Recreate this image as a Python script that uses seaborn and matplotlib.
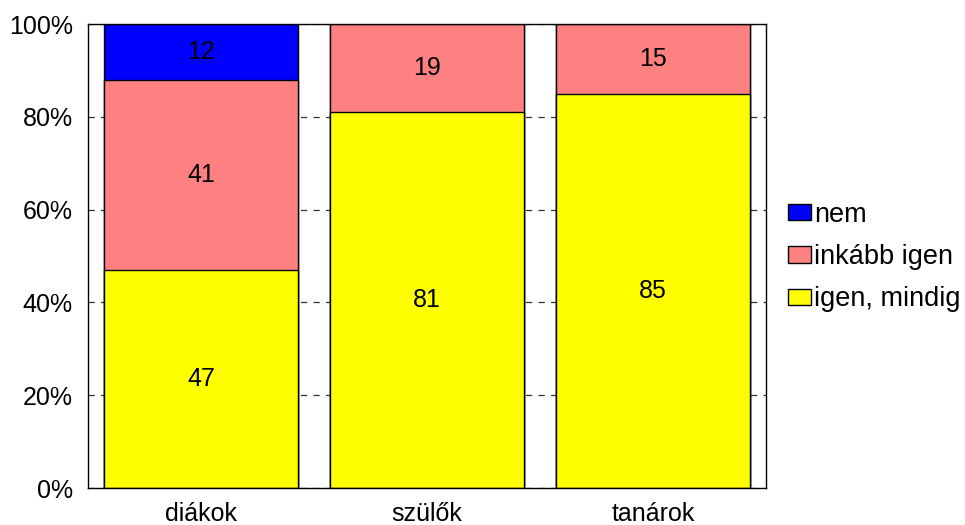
import numpy as np
import pandas as pd
import matplotlib
matplotlib.use('Agg')
import matplotlib.pyplot as plt
import seaborn as sns
from matplotlib.patches import Patch

# Data (percentages)
groups = ['diákok', 'szülők', 'tanárok']
igen_mindig = [47, 81, 85]
inkabb_igen = [41, 19, 15]
nem = [12, 0, 0]
series_names = ['nem', 'inkább igen', 'igen, mindig']
colors = {'nem': '#0000FF', 'inkább igen': '#FF8080', 'igen, mindig': '#FFFF00'}

sns.set_style('white')
plt.rcParams['font.family'] = ['Liberation Sans', 'DejaVu Sans']
plt.rcParams['text.color'] = 'black'
plt.rcParams['xtick.color'] = 'black'
plt.rcParams['ytick.color'] = 'black'

fig = plt.figure(figsize=(9.65, 5.25), dpi=100)
ax = fig.add_axes([88 / 965, 1 - 488 / 525, (766 - 88) / 965, (488 - 24) / 525])

# cumulative tops, drawn from the tallest layer down so each one covers the previous
low = np.array(igen_mindig)
mid = low + np.array(inkabb_igen)
top = mid + np.array(nem)
df = pd.DataFrame({'group': groups, 'top': top, 'mid': mid, 'low': low})

ax.set_axisbelow(True)
ax.yaxis.grid(True, color='#333333', linestyle=(0, (5, 5)), linewidth=0.9)
ax.xaxis.grid(False)

for col, name in zip(['top', 'mid', 'low'], series_names):
    sns.barplot(data=df, x='group', y=col, color=colors[name], saturation=1,
                width=0.854, edgecolor='black', linewidth=1, ax=ax)

# segment labels
fs = 18
for i in range(len(groups)):
    segs = [(0, igen_mindig[i]), (igen_mindig[i], inkabb_igen[i]), (mid[i], nem[i])]
    for start, val in segs:
        if val > 0:
            ax.text(i, start + val / 2, str(val), ha='center', va='center',
                    fontsize=fs, color='black')

ax.set_xlim(-0.5, 2.5)
ax.set_ylim(0, 100)
ax.set_yticks([0, 20, 40, 60, 80, 100])
ax.set_yticklabels(['0%', '20%', '40%', '60%', '80%', '100%'], fontsize=fs)
ax.set_xticklabels(groups, fontsize=fs)
ax.set_xlabel('')
ax.set_ylabel('')
ax.tick_params(axis='y', length=0, pad=11)
ax.tick_params(axis='x', length=0, pad=10)
for s in ax.spines.values():
    s.set_color('black')
    s.set_linewidth(1)

handles = [Patch(facecolor=colors[n], edgecolor='black', linewidth=1, label=n) for n in series_names]
fig.legend(handles=handles, loc='center left', bbox_to_anchor=(788 / 965, 1 - 257 / 525),
           frameon=False, fontsize=19.5, handlelength=0.85, handleheight=0.55,
           handletextpad=0.1, labelspacing=0.6, borderaxespad=0, borderpad=0)

fig.savefig('out.png', dpi=100)
